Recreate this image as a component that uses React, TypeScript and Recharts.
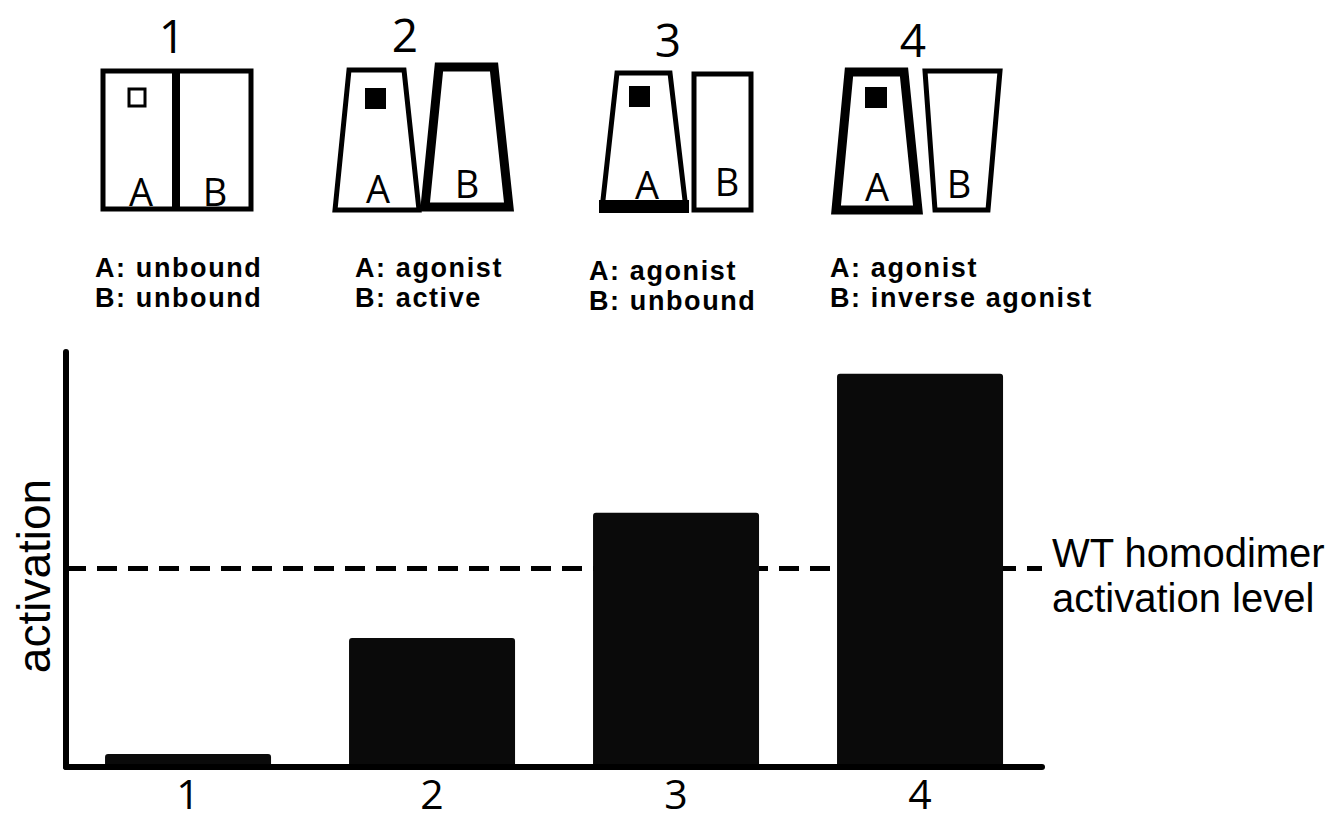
import React from "react";
import {
  BarChart,
  Bar,
  XAxis,
  YAxis,
  ReferenceLine,
  Label,
} from "recharts";

// values (WT homodimer level = 1)
const categories = ["1", "2", "3", "4"];
const activation = [0.065, 0.65, 1.28, 1.98];
const wtLevel = 1;
const yMax = 2.09;

// captions under the cartoons
const stateA = ["unbound", "agonist", "agonist", "agonist"];
const stateB = ["unbound", "active", "unbound", "inverse agonist"];

const data = categories.map((name, i) => ({ name, value: activation[i] }));

const SANS = "'Liberation Sans', Arial, sans-serif";
const MYRIAD = "'Open Sans', sans-serif";

function Cartoons() {
  const captionX = [95, 355, 589, 830];
  const captionY = [277, 277, 280, 277];
  const numX = [172, 405, 668, 913];
  const numY = [53, 52, 57, 57];
  const letter = { fontFamily: MYRIAD, fontSize: 38, fill: "#000", textAnchor: "middle" as const };
  return (
    <svg
      width={1329}
      height={330}
      style={{ position: "absolute", left: 0, top: 0, pointerEvents: "none" }}
    >
      {categories.map((c, i) => (
        <text key={c} x={numX[i]} y={numY[i]} fontFamily={MYRIAD} fontSize={46} textAnchor="middle" fill="#000">
          {c}
        </text>
      ))}

      {/* 1: both unbound */}
      <rect x={103} y={71} width={148} height={138} fill="none" stroke="#000" strokeWidth={5} />
      <rect x={172} y={71} width={8} height={138} fill="#000" />
      <rect x={129} y={89} width={16} height={17} fill="none" stroke="#000" strokeWidth={3} />
      <text x={141} y={206} {...letter}>A</text>
      <text x={215} y={206} {...letter}>B</text>

      {/* 2: agonist + active */}
      <polygon points="349,70 404,70 419,210 335,210" fill="none" stroke="#000" strokeWidth={5} />
      <rect x={365} y={88} width={21} height={21} fill="#000" />
      <polygon points="439,67 494,67 509,207 425,207" fill="none" stroke="#000" strokeWidth={9} />
      <text x={378} y={203} {...letter}>A</text>
      <text x={467} y={198} {...letter}>B</text>

      {/* 3: agonist + unbound */}
      <polygon points="617,73 670,73 686,209 602,209" fill="none" stroke="#000" strokeWidth={5} />
      <rect x={599} y={200} width={90} height={13} fill="#000" />
      <rect x={629} y={86} width={21} height={21} fill="#000" />
      <rect x={694} y={74} width={57} height={136} fill="none" stroke="#000" strokeWidth={5} />
      <text x={647} y={199} {...letter}>A</text>
      <text x={727} y={196} {...letter}>B</text>

      {/* 4: agonist + inverse agonist */}
      <polygon points="849,72 904,72 918,210 836,210" fill="none" stroke="#000" strokeWidth={9} />
      <rect x={865} y={87} width={22} height={21} fill="#000" />
      <polygon points="925,71 1000,71 988,210 935,210" fill="none" stroke="#000" strokeWidth={5} />
      <text x={877} y={201} {...letter}>A</text>
      <text x={959} y={198} {...letter}>B</text>

      {categories.map((c, i) => (
        <text
          key={"cap" + c}
          x={captionX[i]}
          y={captionY[i]}
          fontFamily={SANS}
          fontWeight="bold"
          fontSize={27}
          letterSpacing={1.6}
          fill="#000"
        >
          <tspan x={captionX[i]}>A: {stateA[i]}</tspan>
          <tspan x={captionX[i]} dy={30}>B: {stateB[i]}</tspan>
        </text>
      ))}
    </svg>
  );
}

export default function App() {
  return (
    <div
      style={{
        position: "absolute",
        left: 0,
        top: 0,
        width: 1329,
        height: 823,
        background: "#fff",
      }}
    >
      <BarChart
        width={1329}
        height={823}
        data={data}
        margin={{ top: 352, right: 287, bottom: 0, left: 0 }}
        barCategoryGap="16%"
      >
        <ReferenceLine
          y={wtLevel}
          stroke="#000"
          strokeWidth={5}
          strokeDasharray="20 11"
          zIndex={50}
          label={(props: any) => {
            const vb = props.viewBox || {};
            const x = (vb.x ?? 66) + (vb.width ?? 976) + 10;
            const y = vb.y ?? 568;
            return (
              <text x={x} y={y} fontFamily={SANS} fontSize={40} fill="#000">
                <tspan x={x} dy={-1}>WT homodimer</tspan>
                <tspan x={x} dy={45}>activation level</tspan>
              </text>
            );
          }}
        />
        <Bar dataKey="value" fill="#0a0a0a" radius={[3, 3, 0, 0]} isAnimationActive={false} />
        <XAxis
          dataKey="name"
          height={56}
          axisLine={{ stroke: "#000", strokeWidth: 6, strokeLinecap: "round" }}
          tickLine={false}
          tick={{ fill: "#000", fontSize: 41, fontFamily: MYRIAD }}
          tickMargin={7}
        />
        <YAxis
          type="number"
          domain={[0, yMax]}
          width={66}
          tick={false}
          tickLine={false}
          axisLine={{ stroke: "#000", strokeWidth: 6, strokeLinecap: "round" }}
        >
          <Label
            content={() => (
              <text
                transform="translate(50,576) rotate(-90)"
                textAnchor="middle"
                fontFamily={SANS}
                fontSize={46}
                fill="#000"
              >
                activation
              </text>
            )}
          />
        </YAxis>
      </BarChart>
      <Cartoons />
    </div>
  );
}
